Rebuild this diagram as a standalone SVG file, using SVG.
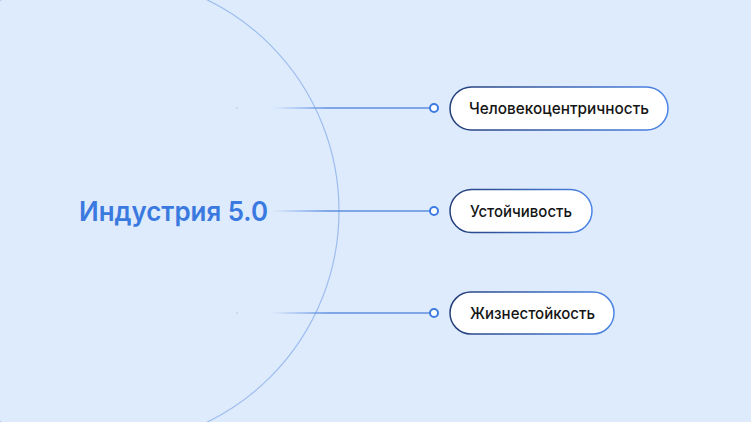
<svg xmlns="http://www.w3.org/2000/svg" width="751" height="422" viewBox="0 0 751 422">
  <style>
    .pill { fill: #ffffff; stroke: url(#pillStroke); stroke-width: 1.5; }
    .label { font-family: Inter, "Noto Sans", "Liberation Sans", sans-serif; font-size: 16.2px; font-weight: 500; fill: #151515; }
    .title { font-family: Inter, "Noto Sans", "Liberation Sans", sans-serif; font-size: 27.5px; font-weight: 600; fill: #3a7ae0; }
    .link { stroke: url(#lineFade); stroke-width: 1.3; fill: none; }
    .end { fill: #ffffff; stroke: #3d7be3; stroke-width: 2; }
    .speck { fill: #9fb6dc; }
  </style>
  <defs>
    <linearGradient id="pillStroke" x1="0" y1="0" x2="1" y2="0">
      <stop offset="0" stop-color="#243f7a"/>
      <stop offset="1" stop-color="#4d85e6"/>
    </linearGradient>
    <linearGradient id="lineFade" gradientUnits="userSpaceOnUse" x1="272" y1="0" x2="434" y2="0">
      <stop offset="0" stop-color="#4f84dc" stop-opacity="0"/>
      <stop offset="0.35" stop-color="#4f84dc" stop-opacity="0.9"/>
      <stop offset="1" stop-color="#4f84dc" stop-opacity="0.9"/>
    </linearGradient>
  </defs>
  <rect width="751" height="422" fill="#deebfd"/>
  <g id="core">
    <circle cx="104" cy="211" r="235" fill="none" stroke="#9dbdee" stroke-width="1.2"/>
    <text class="title" x="79" y="221" textLength="189" lengthAdjust="spacingAndGlyphs">Индустрия 5.0</text>
    <circle class="speck" cx="237" cy="108" r="0.7"/>
    <circle class="speck" cx="237" cy="313" r="0.7"/>
  </g>
  <g id="connectors">
    <line class="link" x1="272" y1="108" x2="430" y2="108"/>
    <line class="link" x1="272" y1="211" x2="430" y2="211"/>
    <line class="link" x1="272" y1="313" x2="430" y2="313"/>
    <circle class="end" cx="434" cy="108" r="4"/>
    <circle class="end" cx="434" cy="211" r="4"/>
    <circle class="end" cx="434" cy="313" r="4"/>
  </g>
  <g id="node-human">
    <rect class="pill" x="450" y="87" width="218" height="43" rx="21.5"/>
    <text class="label" x="469" y="114.3" textLength="180" lengthAdjust="spacingAndGlyphs">Человекоцентричность</text>
  </g>
  <g id="node-sustain">
    <rect class="pill" x="450" y="189.5" width="142" height="43" rx="21.5"/>
    <text class="label" x="470" y="216.8" textLength="102" lengthAdjust="spacingAndGlyphs">Устойчивость</text>
  </g>
  <g id="node-resilience">
    <rect class="pill" x="450" y="292" width="164" height="42" rx="21"/>
    <text class="label" x="470" y="318.8" textLength="125" lengthAdjust="spacingAndGlyphs">Жизнестойкость</text>
  </g>
</svg>
